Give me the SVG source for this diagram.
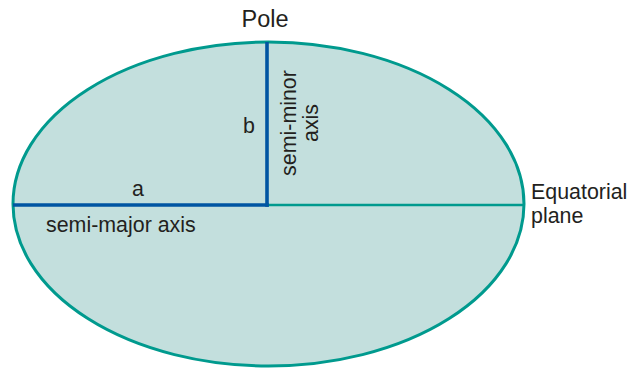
<svg xmlns="http://www.w3.org/2000/svg" width="629" height="368" viewBox="0 0 629 368">
<style>
text{font-family:"Liberation Sans",Arial,sans-serif;fill:#231f20;font-size:21.4px}
.blue{stroke:#0055a2;stroke-width:3.6;fill:none}
.teal{stroke:#009a8e;fill:none}
</style>
<rect width="629" height="368" fill="#ffffff"/>
<g id="ellipse">
<ellipse cx="268.5" cy="204" rx="255.5" ry="162" fill="#c3dfdd" stroke="#009a8e" stroke-width="3"/>
</g>
<g id="connectors">
<line class="teal" x1="267" y1="205" x2="524" y2="205" stroke-width="2.4"/>
<line class="blue" x1="13" y1="205" x2="268.8" y2="205"/>
<line class="blue" x1="267" y1="42" x2="267" y2="206.8"/>
</g>
<g id="pole"><text x="265" y="27" style="font-size:23.5px" text-anchor="middle">Pole</text></g>
<g id="a-label"><text x="138" y="196" text-anchor="middle">a</text></g>
<g id="semi-major"><text x="46" y="232">semi-major axis</text></g>
<g id="b-label"><text x="249" y="133" text-anchor="middle">b</text></g>
<g id="semi-minor">
<text transform="translate(296,123) rotate(-90)" text-anchor="middle">semi-minor</text>
<text transform="translate(318,123) rotate(-90)" text-anchor="middle">axis</text>
</g>
<g id="equatorial">
<text x="531" y="199">Equatorial</text>
<text x="531" y="223">plane</text>
</g>
</svg>
